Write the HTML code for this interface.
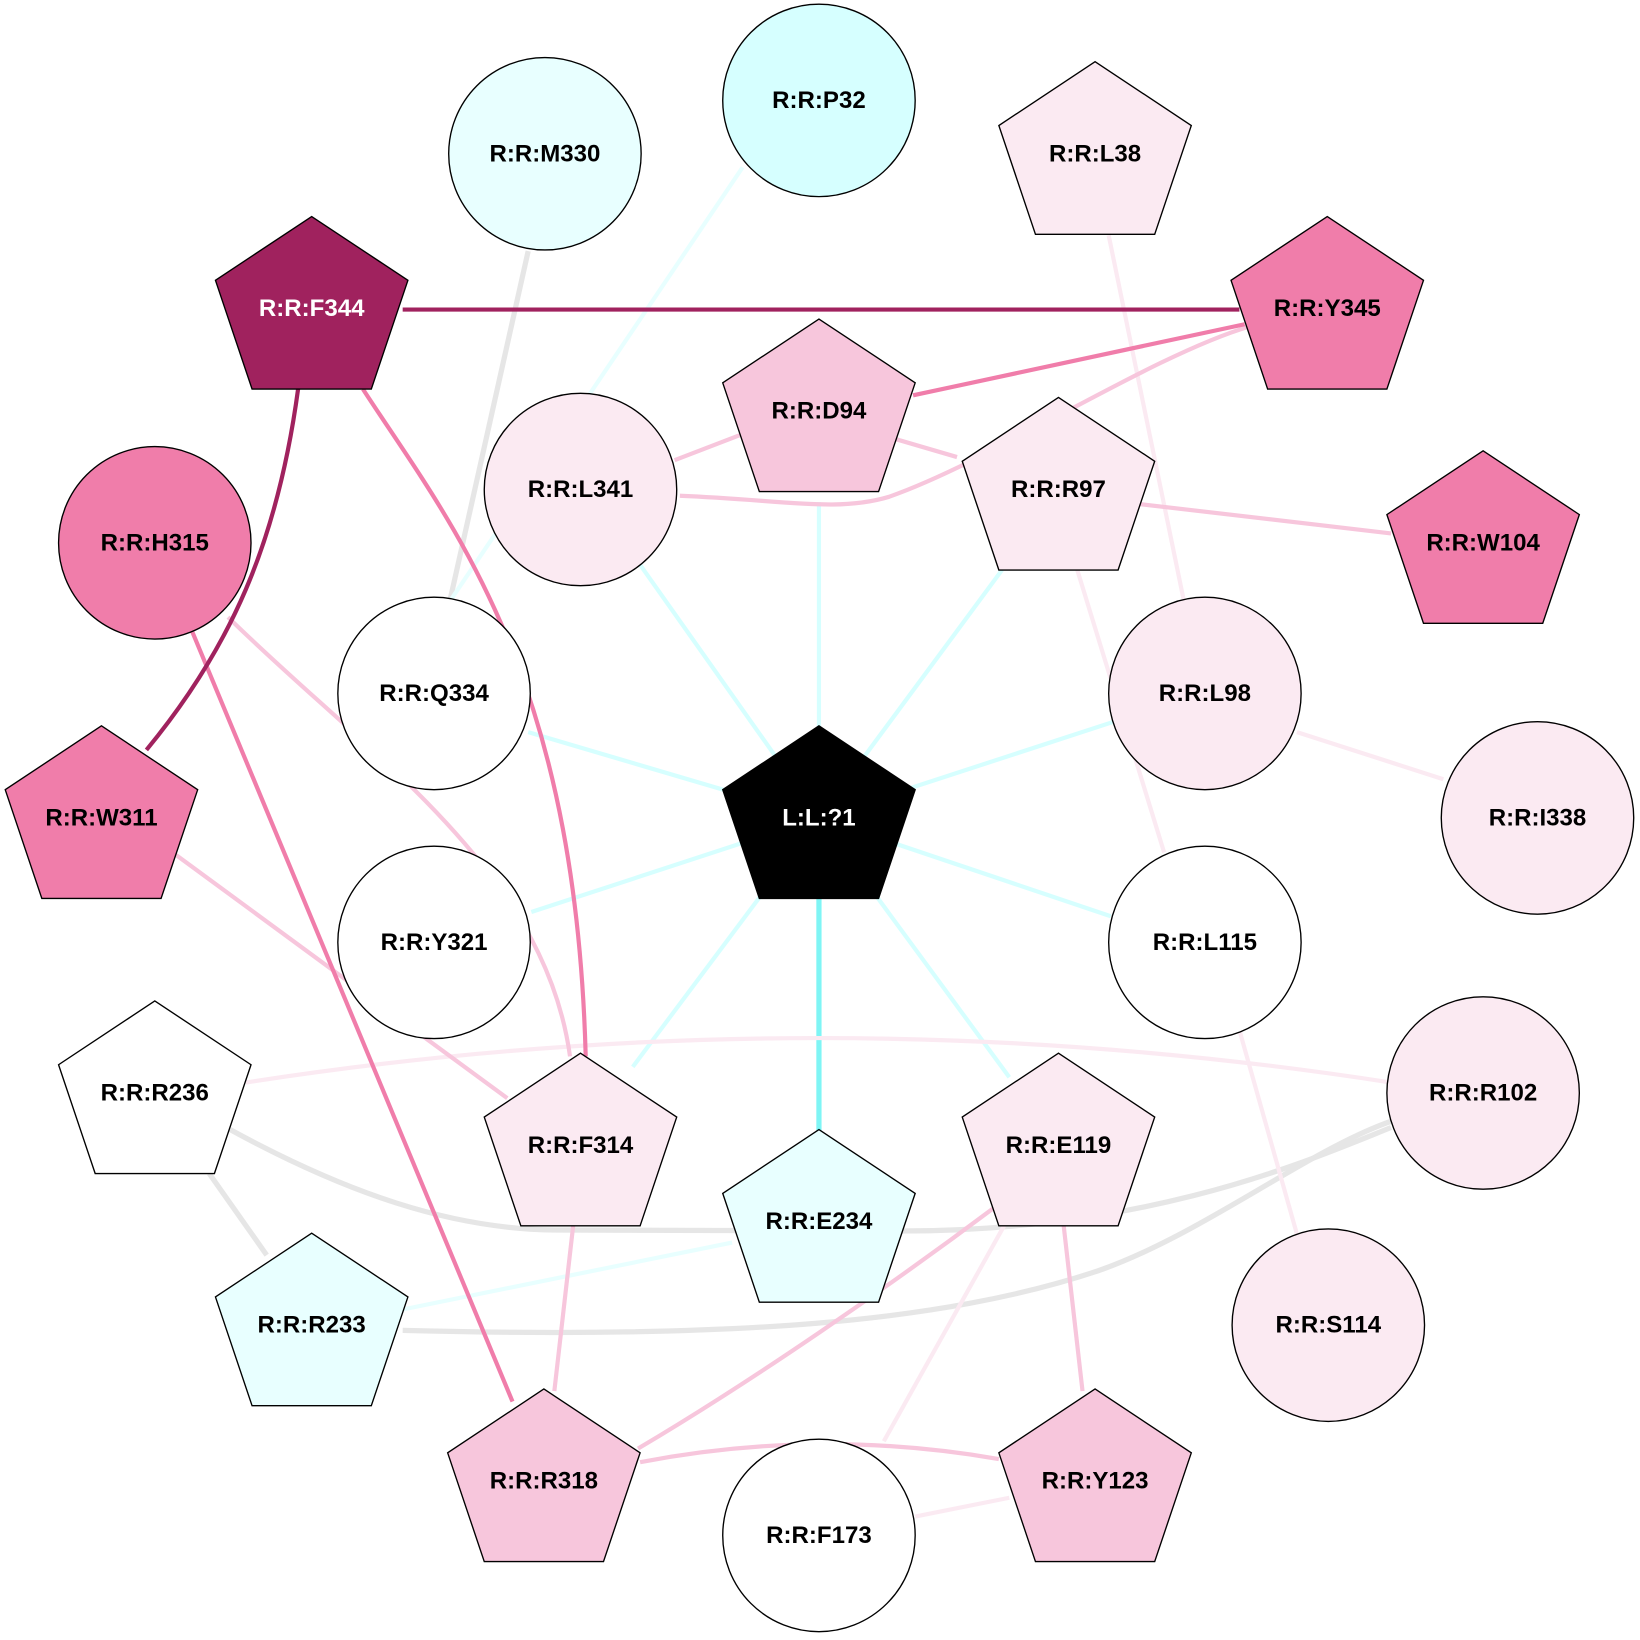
<!DOCTYPE html>
<html><head><meta charset="utf-8"><style>html,body{margin:0;padding:0;background:#fff}svg{display:block}</style></head>
<body>
<svg width="1640" height="1640" viewBox="0 0 1568 1568" xmlns="http://www.w3.org/2000/svg">
<defs>
<path id="pg" d="M0,-88 L92,-27 L57,77 L-57,77 L-92,-27 Z"/>
</defs>
<g fill="none" stroke-linecap="butt">
<g stroke="#d6ffff" stroke-width="4">
<line x1="783" y1="782" x2="612" y2="540"/>
<line x1="783" y1="782" x2="783" y2="480"/>
<line x1="783" y1="782" x2="958" y2="545"/>
<line x1="783" y1="782" x2="505" y2="700"/>
<line x1="783" y1="782" x2="1065" y2="690"/>
<line x1="783" y1="782" x2="508" y2="872"/>
<line x1="783" y1="782" x2="1062" y2="876"/>
<line x1="783" y1="782" x2="605" y2="1020"/>
<line x1="783" y1="782" x2="965" y2="1030"/>
</g>
<line x1="783" y1="782" x2="783" y2="1082" stroke="#7ff5f5" stroke-width="5"/>
<g stroke="#e6e6e6" stroke-width="5">
<line x1="505" y1="240" x2="430" y2="575"/>
<line x1="200" y1="1122" x2="255" y2="1200"/>
<path d="M220,1080 C330,1140 430,1175 530,1176 L860,1177 C1100,1177 1250,1110 1330,1078"/>
<path d="M385,1272 C700,1280 900,1265 1050,1215 C1150,1180 1250,1100 1330,1072"/>
</g>
<g stroke="#e8ffff" stroke-width="4">
<line x1="710" y1="160" x2="430" y2="575"/>
<line x1="700" y1="1188" x2="385" y2="1252"/>
</g>
<g stroke="#fbeaf2" stroke-width="4">
<line x1="1060" y1="225" x2="1132" y2="575"/>
<line x1="1030" y1="545" x2="1113" y2="815"/>
<line x1="1240" y1="700" x2="1380" y2="745"/>
<line x1="1185" y1="985" x2="1240" y2="1180"/>
<path d="M235,1035 Q783,950 1330,1035"/>
<line x1="960" y1="1172" x2="845" y2="1378"/>
<line x1="875" y1="1450" x2="965" y2="1432"/>
</g>
<g stroke="#f7c6dc" stroke-width="4">
<path d="M650,474 C750,478 800,490 850,475 C950,440 1100,340 1195,312"/>
<line x1="645" y1="440" x2="710" y2="415"/>
<line x1="850" y1="418" x2="915" y2="437"/>
<line x1="1090" y1="482" x2="1330" y2="510"/>
<path d="M218,590 C350,720 520,830 545,1010"/>
<line x1="165" y1="815" x2="485" y2="1050"/>
<line x1="548" y1="1172" x2="530" y2="1330"/>
<path d="M950,1155 C850,1230 720,1320 610,1385"/>
<line x1="1017" y1="1172" x2="1035" y2="1330"/>
<path d="M612,1398 Q783,1365 955,1395"/>
</g>
<g stroke="#f07daa" stroke-width="4">
<line x1="1190" y1="310" x2="873" y2="378"/>
<path d="M347,372 C430,500 550,640 560,1010"/>
<line x1="183" y1="602" x2="490" y2="1340"/>
</g>
<g stroke="#a0225e" stroke-width="4">
<line x1="385" y1="296" x2="1185" y2="296"/>
<path d="M285,372 C265,520 220,620 140,717"/>
</g>
</g>
<g stroke="#000" stroke-width="1.3">
<circle cx="783" cy="96" r="92" fill="#d6ffff"/>
<circle cx="521" cy="147" r="92" fill="#e8ffff"/>
<use href="#pg" x="1047" y="147" fill="#fbeaf2"/>
<use href="#pg" x="298" y="295" fill="#a0225e"/>
<use href="#pg" x="1269" y="295" fill="#f07daa"/>
<use href="#pg" x="783" y="393" fill="#f7c6dc"/>
<circle cx="555" cy="468" r="92" fill="#fbeaf2"/>
<use href="#pg" x="1012" y="468" fill="#fbeaf2"/>
<circle cx="148" cy="519" r="92" fill="#f07daa"/>
<use href="#pg" x="1418" y="519" fill="#f07daa"/>
<circle cx="415" cy="663" r="92" fill="#fff"/>
<circle cx="1152" cy="663" r="92" fill="#fbeaf2"/>
<use href="#pg" x="97" y="782" fill="#f07daa"/>
<use href="#pg" x="783" y="782" fill="#000"/>
<circle cx="1470" cy="782" r="92" fill="#fbeaf2"/>
<circle cx="415" cy="901" r="92" fill="#fff"/>
<circle cx="1152" cy="901" r="92" fill="#fff"/>
<use href="#pg" x="148" y="1045" fill="#fff"/>
<circle cx="1418" cy="1045" r="92" fill="#fbeaf2"/>
<use href="#pg" x="555" y="1095" fill="#fbeaf2"/>
<use href="#pg" x="1012" y="1095" fill="#fbeaf2"/>
<use href="#pg" x="783" y="1168" fill="#e8ffff"/>
<use href="#pg" x="298" y="1267" fill="#e8ffff"/>
<circle cx="1270" cy="1267" r="92" fill="#fbeaf2"/>
<use href="#pg" x="520" y="1416" fill="#f7c6dc"/>
<use href="#pg" x="1047" y="1416" fill="#f7c6dc"/>
<circle cx="783" cy="1468" r="92" fill="#fff"/>
</g>
<g font-family="Liberation Sans, sans-serif" font-weight="bold" font-size="23" text-anchor="middle" dominant-baseline="central" fill="#000">
<text x="783" y="96">R:R:P32</text>
<text x="521" y="147">R:R:M330</text>
<text x="1047" y="147">R:R:L38</text>
<text x="298" y="295" fill="#fff">R:R:F344</text>
<text x="1269" y="295">R:R:Y345</text>
<text x="783" y="393">R:R:D94</text>
<text x="555" y="468">R:R:L341</text>
<text x="1012" y="468">R:R:R97</text>
<text x="148" y="519">R:R:H315</text>
<text x="1418" y="519">R:R:W104</text>
<text x="415" y="663">R:R:Q334</text>
<text x="1152" y="663">R:R:L98</text>
<text x="97" y="782">R:R:W311</text>
<text x="783" y="782" fill="#fff">L:L:?1</text>
<text x="1470" y="782">R:R:I338</text>
<text x="415" y="901">R:R:Y321</text>
<text x="1152" y="901">R:R:L115</text>
<text x="148" y="1045">R:R:R236</text>
<text x="1418" y="1045">R:R:R102</text>
<text x="555" y="1095">R:R:F314</text>
<text x="1012" y="1095">R:R:E119</text>
<text x="783" y="1168">R:R:E234</text>
<text x="298" y="1267">R:R:R233</text>
<text x="1270" y="1267">R:R:S114</text>
<text x="520" y="1416">R:R:R318</text>
<text x="1047" y="1416">R:R:Y123</text>
<text x="783" y="1468">R:R:F173</text>
</g>
</svg>
</body></html>
